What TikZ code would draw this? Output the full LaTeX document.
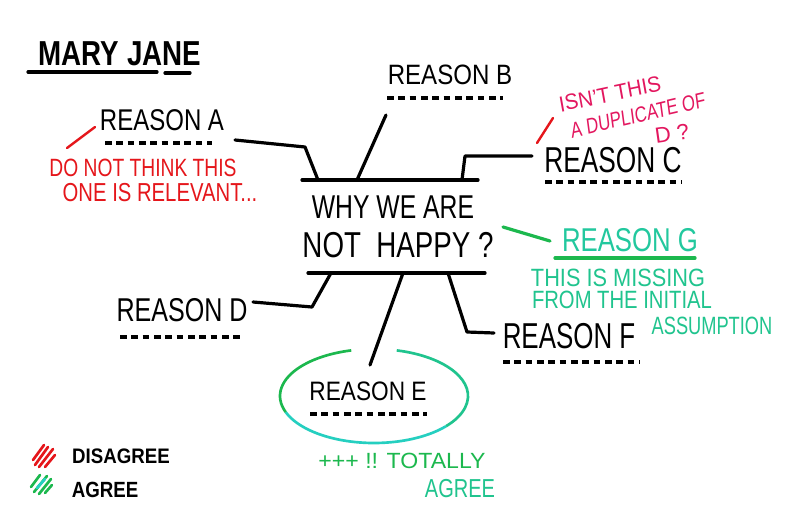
\documentclass[tikz,border=0pt]{standalone}
\usepackage{fontspec}
\usepackage{graphicx}
\setmainfont{Liberation Sans}
\definecolor{mred}{HTML}{E5161B}
\definecolor{mpink}{HTML}{E3175F}
\definecolor{mgreen}{HTML}{1CB84E}
\definecolor{mcyan}{HTML}{25CFC0}
\definecolor{mteal}{HTML}{20C48E}
\newcommand\fsz[1]{\fontsize{#1pt}{#1pt}\selectfont}
\begin{document}
\begin{tikzpicture}[x=0.75pt,y=-0.75pt,
  ln/.style={line width=2.4pt, line cap=round, line join=round},
  dsh/.style={line width=2.4pt, dash pattern=on 5pt off 3.5pt},
  txt/.style={inner sep=0pt, text=black},
  rtxt/.style={inner sep=0pt, text=mred},
  ptxt/.style={inner sep=0pt, text=mpink},
  gtxt/.style={inner sep=0pt, text=mteal},
]
\fill[white] (0,0) rectangle (800,532);
\useasboundingbox (0,0) rectangle (800,532);

% title
\node[txt, xscale=.8, font=\fsz{26}\bfseries] (mary) at (120,54) {MARY JANE};
\coordinate (mu1) at (28,72); \coordinate (mu2) at (157,72);
\coordinate (mu3) at (165,73); \coordinate (mu4) at (190,73);
\draw[ln] (mu1) -- (mu2); \draw[ln] (mu3) -- (mu4);

% central question
\node[txt, xscale=.75, font=\fsz{24.75}] (why1) at (393,207) {WHY WE ARE};
\node[txt, xscale=.77, font=\fsz{27}] (why2) at (398,245) {NOT\ \ HAPPY ?};
\coordinate (tl) at (302,180); \coordinate (tr) at (478,180);
\coordinate (bl) at (308,273); \coordinate (br) at (485,273);
\draw[ln] (tl) -- (tr);
\draw[ln] (bl) -- (br);

% reasons
\node[txt, xscale=.8, font=\fsz{22.5}] (rA) at (162,120) {REASON A};
\node[txt, xscale=.86, font=\fsz{21}] (rB) at (450,75) {REASON B};
\node[txt, xscale=.73, font=\fsz{27}] (rC) at (613,160) {REASON C};
\node[txt, xscale=.76, font=\fsz{24.75}] (rD) at (182,310) {REASON D};
\node[txt, xscale=.85, font=\fsz{20}] (rE) at (368,391) {REASON E};
\node[txt, xscale=.72, font=\fsz{27}] (rF) at (569,336) {REASON F};
\node[inner sep=0pt, text=mcyan!70!mgreen, xscale=.78, font=\fsz{24.75}] (rG) at (630,240) {REASON G};

% dashed underlines
\draw[dsh] (105,143) -- (212,143);
\draw[dsh] (387,98) -- (503,98);
\draw[dsh] (545,182) -- (682,182);
\draw[dsh] (120,337) -- (240,337);
\draw[dsh] (310,414) -- (427,414);
\draw[dsh] (503,362) -- (640,362);
\draw[ln, mgreen] (555,258) -- (695,258);

% connectors
\coordinate (aS) at (235,140); \coordinate (aM) at (305,147); \coordinate (aE) at (318,180);
\coordinate (bS) at (386,115); \coordinate (bE) at (357,180);
\coordinate (cS) at (532,156); \coordinate (cM) at (465,156); \coordinate (cE) at (462,180);
\coordinate (dS) at (253,302); \coordinate (dM) at (312,307); \coordinate (dE) at (331,273);
\coordinate (eS) at (403,273); \coordinate (eE) at (370,365);
\coordinate (fS) at (448,273); \coordinate (fM) at (467,332); \coordinate (fE) at (494,333);
\coordinate (gS) at (503,227); \coordinate (gE) at (550,241);
\draw[ln] (aS) -- (aM) -- (aE);
\draw[ln] (bS) -- (bE);
\draw[ln] (cS) -- (cM) -- (cE);
\draw[ln] (dS) -- (dM) -- (dE);
\draw[ln] (eS) -- (eE);
\draw[ln] (fS) -- (fM) -- (fE);
\draw[ln, mgreen] (gS) -- (gE);

% red remark on A
\coordinate (rs1) at (67,148); \coordinate (rs2) at (95,127);
\draw[ln, mred, line width=1.8pt] (rs1) -- (rs2);
\node[rtxt, xscale=.77, font=\fsz{18.75}] (ra1) at (143,168) {DO NOT THINK THIS};
\node[rtxt, xscale=.78, font=\fsz{19.5}] (ra2) at (160,193) {ONE IS RELEVANT...};

% pink remark on C
\coordinate (ps1) at (537,143); \coordinate (ps2) at (553,118);
\draw[ln, mred, line width=1.8pt] (ps1) -- (ps2);
\node[ptxt, xscale=.93, rotate=11, font=\fsz{16.5}] (pc1) at (610,94) {ISN'T THIS};
\node[ptxt, xscale=.76, rotate=10, font=\fsz{16.5}] (pc2) at (638,115) {A DUPLICATE OF};
\node[ptxt, rotate=8, font=\fsz{16.5}] (pc3) at (672,134) {D ?};

% green remark on G
\node[gtxt, xscale=.87, font=\fsz{18.75}] (g1) at (618,278) {THIS IS MISSING};
\node[gtxt, xscale=.81, font=\fsz{18.75}] (g2) at (622,300) {FROM THE INITIAL};
\node[gtxt, xscale=.73, font=\fsz{18.75}] (g3) at (712,326) {ASSUMPTION};

% ellipse around E
\coordinate (ec) at (374,396);
\draw[line width=2pt, mteal] (ec) ++(284:94 and 47) arc[start angle=284, end angle=400, x radius=94, y radius=47];
\draw[line width=2pt, mcyan] (ec) ++(400:94 and 47) arc[start angle=400, end angle=520, x radius=94, y radius=47];
\draw[line width=2pt, mgreen] (ec) ++(520:94 and 47) arc[start angle=520, end angle=616, x radius=94, y radius=47];
\node[inner sep=0pt, text=mgreen, xscale=1.05, font=\fsz{16.5}] (tot) at (402,461) {+++ !! TOTALLY};
\node[inner sep=0pt, text=mteal, xscale=.77, font=\fsz{19.5}] (agr) at (460,489) {AGREE};

% legend
\foreach \a/\b in {{33,460}/{44,445},{35,465}/{48,447},{39,467}/{53,449},{45,467}/{55,455}}
  \draw[mred, line width=2pt, line cap=round] (\a) -- (\b);
\foreach \a/\b in {{31,487}/{40,475},{34,492}/{47,476},{39,494}/{51,479},{45,493}/{52,485}}
  \draw[mgreen, line width=2pt, line cap=round] (\a) -- (\b);
\draw[mcyan, line width=2pt, line cap=round] (37,488) -- (45,479);
\node[txt, xscale=.89, font=\fsz{15.75}\bfseries] (ld) at (121,456) {DISAGREE};
\node[txt, xscale=.85, font=\fsz{16.5}\bfseries] (la) at (105,490) {AGREE};
\end{tikzpicture}
\end{document}
